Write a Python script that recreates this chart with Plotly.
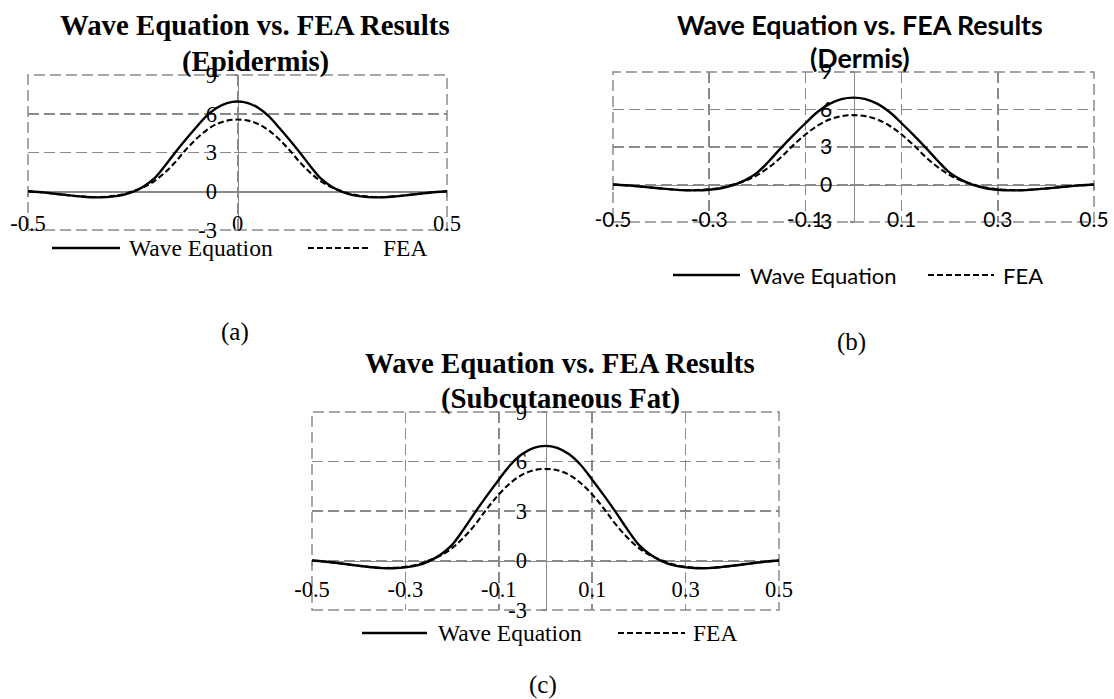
import plotly.graph_objects as go

W, H = 1114, 699

# ---------------- data ----------------
x_vals = [-0.5, -0.475, -0.45, -0.425, -0.4, -0.375, -0.35, -0.325, -0.3, -0.275,
          -0.25, -0.225, -0.2, -0.175, -0.15, -0.125, -0.1, -0.075, -0.05, -0.025,
          0.0, 0.025, 0.05, 0.075, 0.1, 0.125, 0.15, 0.175, 0.2, 0.225,
          0.25, 0.275, 0.3, 0.325, 0.35, 0.375, 0.4, 0.425, 0.45, 0.475, 0.5]
wave_vals = [0.0, -0.06, -0.14, -0.23, -0.32, -0.4, -0.46, -0.47, -0.42, -0.3,
             -0.05, 0.35, 0.95, 1.9, 2.95, 3.95, 4.9, 5.8, 6.45, 6.83,
             6.95, 6.83, 6.45, 5.8, 4.9, 3.95, 2.95, 1.9, 0.95, 0.35,
             -0.05, -0.3, -0.42, -0.47, -0.46, -0.4, -0.32, -0.23, -0.14, -0.06, 0.0]
fea_vals = [0.0, -0.06, -0.14, -0.23, -0.32, -0.4, -0.45, -0.44, -0.38, -0.25,
            0.0, 0.3, 0.75, 1.4, 2.2, 3.15, 4.0, 4.7, 5.2, 5.47,
            5.55, 5.47, 5.2, 4.7, 4.0, 3.15, 2.2, 1.4, 0.75, 0.3,
            0.0, -0.25, -0.38, -0.44, -0.45, -0.4, -0.32, -0.23, -0.14, -0.06, 0.0]

series_names = ["Wave Equation", "FEA"]
y_ticks = [-3, 0, 3, 6, 9]
y_ticklabels = ["-3", "0", "3", "6", "9"]
x_ticks_a = [-0.5, 0, 0.5]
x_ticklabels_a = ["-0.5", "0", "0.5"]
x_ticks_bc = [-0.5, -0.3, -0.1, 0.1, 0.3, 0.5]
x_ticklabels_bc = ["-0.5", "-0.3", "-0.1", "0.1", "0.3", "0.5"]
title_main = "Wave Equation vs. FEA Results"
subtitles = ["(Epidermis)", "(Dermis)", "(Subcutaneous Fat)"]
captions = ["(a)", "(b)", "(c)"]
x_range = [-0.5, 0.5]
y_range = [-3, 9]

# ---------------- layout / style ----------------
SERIF = "Liberation Serif, Times New Roman, serif"
SANS = "Lato, Carlito, Calibri, sans-serif"
GRID = "#8a8a8a"
DASH = "11px,5px"

panels = [
    dict(box=(28, 447, 75, 230), font=SERIF, tsize=22.5, lsize=23.5, title_size=28.8,
         title_cx=255, t1=25, t2=61, xstand=7, ystand=12,
         xt=x_ticks_a, xl=x_ticklabels_a, leg_y=248,
         solid=(52, 120), text1=127, dash=(308, 368), text2=381, cap=(235, 332)),
    dict(box=(613, 1094, 72, 222), font=SANS, tsize=21, lsize=22, title_size=26.8,
         title_cx=860, t1=25, t2=58, xstand=12, ystand=13,
         xt=x_ticks_bc, xl=x_ticklabels_bc, leg_y=275,
         solid=(673, 740), text1=748, dash=(928, 994), text2=1001, cap=(851, 342)),
    dict(box=(312, 779, 412, 610), font=SERIF, tsize=22.5, lsize=23.5, title_size=28.8,
         title_cx=560, t1=363, t2=398, xstand=4, ystand=10,
         xt=x_ticks_bc, xl=x_ticklabels_bc, leg_y=633,
         solid=(362, 427), text1=436, dash=(618, 685), text2=691, cap=(543, 685)),
]


def fx(px):
    return px / W


def fy(py):
    return 1 - py / H


fig = go.Figure()
annotations = []
shapes = []
layout_axes = {}

for i, p in enumerate(panels):
    n = "" if i == 0 else str(i + 1)
    xa, ya = "x" + n, "y" + n
    x0, x1, ytop, ybot = p["box"]

    fig.add_trace(go.Scatter(x=x_vals, y=wave_vals, mode="lines", name=series_names[0],
                             line=dict(color="black", width=2.4, shape="spline"),
                             xaxis=xa, yaxis=ya, showlegend=False, hoverinfo="skip"))
    fig.add_trace(go.Scatter(x=x_vals, y=fea_vals, mode="lines", name=series_names[1],
                             line=dict(color="black", width=2.1, dash="6px,3px", shape="spline"),
                             xaxis=xa, yaxis=ya, showlegend=False, hoverinfo="skip"))

    # position of the crossing axes (x=0 / y=0) from domain & range
    y_zero_px = ybot - (ybot - ytop) * (0 - y_range[0]) / (y_range[1] - y_range[0])
    x_zero_px = x0 + (x1 - x0) * (0 - x_range[0]) / (x_range[1] - x_range[0])

    tickfont = dict(family=p["font"], size=p["tsize"], color="black")
    common = dict(showgrid=True, gridcolor=GRID, gridwidth=1.5, griddash=DASH,
                  zeroline=False, showline=True, linecolor=GRID, linewidth=1.5,
                  ticks="outside", ticklen=4, tickcolor=GRID, tickwidth=1.5,
                  layer="below traces", fixedrange=True, automargin=False,
                  tickmode="array", tickfont=tickfont)
    layout_axes["xaxis" + n] = dict(
        domain=[fx(x0), fx(x1)], range=x_range, anchor="free", position=fy(y_zero_px),
        tickvals=p["xt"], ticktext=p["xl"], ticklabelstandoff=p["xstand"], **common)
    layout_axes["yaxis" + n] = dict(
        domain=[fy(ybot), fy(ytop)], range=y_range, anchor="free", position=fx(x_zero_px),
        tickvals=y_ticks, ticktext=y_ticklabels, ticklabelstandoff=p["ystand"], **common)

    # dashed border of the plot area (outer grid lines)
    shapes.append(dict(type="rect", xref=xa + " domain", yref=ya + " domain", x0=0, x1=1, y0=0, y1=1,
                       line=dict(color=GRID, width=1.5, dash=DASH), layer="below"))

    # titles
    tfont = dict(family=p["font"], size=p["title_size"], color="black")
    annotations.append(dict(text="<b>%s</b>" % title_main, x=fx(p["title_cx"]), y=fy(p["t1"]),
                            xref="paper", yref="paper", xanchor="center", yanchor="middle",
                            showarrow=False, font=tfont))
    annotations.append(dict(text="<b>%s</b>" % subtitles[i], x=fx(p["title_cx"]), y=fy(p["t2"]),
                            xref="paper", yref="paper", xanchor="center", yanchor="middle",
                            showarrow=False, font=tfont))

    # legend
    ly = fy(p["leg_y"])
    shapes.append(dict(type="line", xref="paper", yref="paper", x0=fx(p["solid"][0]), x1=fx(p["solid"][1]),
                       y0=ly, y1=ly, line=dict(color="black", width=2.6)))
    shapes.append(dict(type="line", xref="paper", yref="paper", x0=fx(p["dash"][0]), x1=fx(p["dash"][1]),
                       y0=ly, y1=ly, line=dict(color="black", width=2.2, dash="6px,3px")))
    lfont = dict(family=p["font"], size=p["lsize"], color="black")
    annotations.append(dict(text=series_names[0], x=fx(p["text1"]), y=ly, xref="paper", yref="paper",
                            xanchor="left", yanchor="middle", showarrow=False, font=lfont))
    annotations.append(dict(text=series_names[1], x=fx(p["text2"]), y=ly, xref="paper", yref="paper",
                            xanchor="left", yanchor="middle", showarrow=False, font=lfont))

    # caption
    annotations.append(dict(text=captions[i], x=fx(p["cap"][0]), y=fy(p["cap"][1]), xref="paper", yref="paper",
                            xanchor="center", yanchor="middle", showarrow=False,
                            font=dict(family=SERIF, size=25, color="black")))

fig.update_layout(
    width=W, height=H, autosize=False,
    margin=dict(l=0, r=0, t=0, b=0, autoexpand=False),
    paper_bgcolor="white", plot_bgcolor="white",
    showlegend=False,
    annotations=annotations, shapes=shapes,
    **layout_axes,
)

fig.write_html("out.html", config={"displayModeBar": False, "staticPlot": True},
               post_script="document.body.style.margin='0';document.body.style.overflow='hidden';")
